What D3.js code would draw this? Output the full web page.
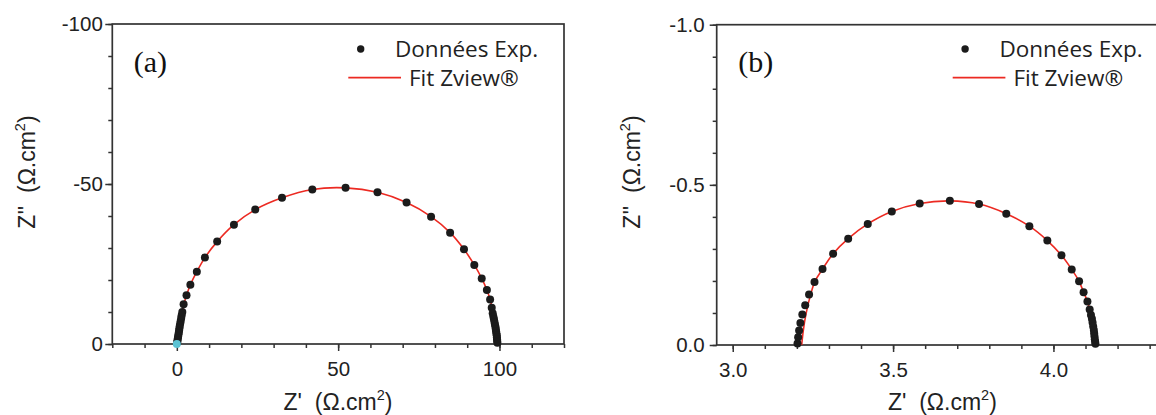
<!DOCTYPE html>
<html>
<head>
<meta charset="utf-8">
<script src="https://cdn.jsdelivr.net/npm/d3@7"></script>
<style>
  html, body { margin: 0; padding: 0; background: #ffffff; }
  svg { display: block; }
</style>
</head>
<body>
<svg id="chart" width="1156" height="415"></svg>
<script>
// ---------- Panel (a) data ----------
const expA_re = [0.15,0.2,0.3,0.4,0.5,0.6,0.7,0.8,0.9,1.05,1.2,1.35,1.5,1.7,2.1,3.0,4.2,6.2,8.7,12.5,17.7,24.3,32.6,42.0,52.3,62.2,71.2,78.8,84.7,89.0,92.2,94.5,96.1,97.1,97.6,97.9,98.1,98.3,98.45,98.6,98.75,98.85,98.95,99.05,99.15,99.2,99.25,99.3,99.35];
const expA_im = [-0.6,-1.1,-1.7,-2.3,-2.9,-3.5,-4.2,-4.9,-5.6,-6.4,-7.2,-8.1,-9.0,-10.0,-12.4,-15.2,-18.5,-22.6,-27.0,-32.0,-37.3,-42.0,-45.7,-48.3,-48.8,-47.4,-44.2,-39.8,-34.8,-29.6,-24.7,-20.5,-16.9,-13.9,-11.3,-9.6,-8.6,-7.7,-6.9,-6.1,-5.4,-4.7,-4.0,-3.3,-2.7,-2.1,-1.5,-0.9,-0.4];
const fitA_re = [0.0,0.3,0.8,1.5,2.2,3.0,4.2,6.2,8.7,12.5,17.7,24.3,32.6,42.0,52.3,62.2,71.2,78.8,84.7,89.0,92.2,94.5,96.1,97.1,97.7,98.2,98.7,99.1,99.3];
const fitA_im = [0.0,-3.0,-6.0,-9.0,-12.4,-15.2,-18.5,-22.6,-27.0,-32.0,-37.3,-42.0,-45.7,-48.3,-48.8,-47.4,-44.2,-39.8,-34.8,-29.6,-24.7,-20.5,-16.9,-13.9,-11.3,-8.5,-5.5,-2.5,0.0];
const hfA_re = [0.0];
const hfA_im = [0.0];
const xTicksA = [0, 50, 100];
const yTicksA = [0, -50, -100];
const xLabelsA = ["0", "50", "100"];
const yLabelsA = ["0", "-50", "-100"];

// ---------- Panel (b) data ----------
const expB_re = [3.202,3.204,3.207,3.211,3.217,3.226,3.238,3.255,3.280,3.313,3.360,3.421,3.496,3.583,3.677,3.768,3.853,3.925,3.981,4.025,4.057,4.080,4.094,4.106,4.113,4.117,4.120,4.122,4.124,4.126,4.127,4.128,4.129,4.130,4.131];
const expB_im = [-0.005,-0.024,-0.045,-0.069,-0.095,-0.124,-0.158,-0.197,-0.237,-0.285,-0.332,-0.378,-0.417,-0.442,-0.450,-0.440,-0.410,-0.371,-0.326,-0.280,-0.236,-0.199,-0.165,-0.136,-0.111,-0.094,-0.082,-0.070,-0.058,-0.047,-0.037,-0.027,-0.018,-0.010,-0.004];
const fitB_re = [3.215,3.220,3.228,3.243,3.257,3.280,3.313,3.360,3.421,3.496,3.583,3.677,3.768,3.853,3.925,3.981,4.025,4.057,4.080,4.094,4.106,4.113,4.120,4.125,4.128,4.130];
const fitB_im = [0.0,-0.045,-0.095,-0.158,-0.200,-0.237,-0.285,-0.332,-0.378,-0.417,-0.442,-0.450,-0.440,-0.410,-0.371,-0.326,-0.280,-0.236,-0.199,-0.165,-0.136,-0.111,-0.080,-0.050,-0.020,0.0];
const xTicksB = [3.0, 3.5, 4.0];
const yTicksB = [0.0, -0.5, -1.0];
const xLabelsB = ["3.0", "3.5", "4.0"];
const yLabelsB = ["0.0", "-0.5", "-1.0"];

const legendLabels = ["Données Exp.", "Fit Zview®"];
const panelLabels = ["(a)", "(b)"];

// ---------- drawing ----------
const svg = d3.select("#chart");
const AXIS = "#333333", TXT = "#222222", RED = "#ec2a22", DOT = "#1b1b1b", CYAN = "#5cc3d4";

function zip(a, b) { return a.map((v, i) => [v, b[i]]); }

function drawPanel(cfg) {
  const x = d3.scaleLinear().domain(cfg.xDomain).range([cfg.left, cfg.right]);
  const y = d3.scaleLinear().domain(cfg.yDomain).range([cfg.bottom, cfg.top]);
  const g = svg.append("g");

  const xMinor = d3.range(Math.ceil(cfg.xDomain[0] / cfg.xMinorStep - 1e-9), Math.floor(cfg.xDomain[1] / cfg.xMinorStep + 1e-9) + 1)
    .map(k => +(k * cfg.xMinorStep).toFixed(4));
  const yMinor = d3.range(0, Math.round(Math.abs(cfg.yDomain[1]) / cfg.yMinorStep) + 1)
    .map(k => -+(k * cfg.yMinorStep).toFixed(4));

  const styleAxis = sel => {
    sel.select(".domain").remove();
    sel.selectAll(".tick line").attr("stroke", AXIS).attr("stroke-width", 1.5);
    sel.selectAll(".tick text").attr("fill", TXT)
      .style("font-family", "'Liberation Sans', Arial, sans-serif").style("font-size", "20.5px");
  };

  g.append("g").attr("transform", `translate(0,${cfg.bottom})`)
    .call(d3.axisBottom(x).tickValues(xMinor).tickSize(4).tickFormat(""))
    .call(styleAxis);
  g.append("g").attr("transform", `translate(0,${cfg.bottom})`)
    .call(d3.axisBottom(x).tickValues(cfg.xTicks).tickSize(7).tickPadding(10.5)
      .tickFormat((d, i) => cfg.xLabels[i]))
    .call(styleAxis);
  g.append("g").attr("transform", `translate(${cfg.left},0)`)
    .call(d3.axisLeft(y).tickValues(yMinor).tickSize(4).tickFormat(""))
    .call(styleAxis);
  g.append("g").attr("transform", `translate(${cfg.left},0)`)
    .call(d3.axisLeft(y).tickValues(cfg.yTicks).tickSize(7).tickPadding(cfg.yPad)
      .tickFormat((d, i) => cfg.yLabels[i]))
    .call(styleAxis);

  g.append("rect")
    .attr("x", cfg.left).attr("y", cfg.top)
    .attr("width", cfg.right - cfg.left).attr("height", cfg.bottom - cfg.top)
    .attr("fill", "none").attr("stroke", AXIS).attr("stroke-width", 1.7);

  const line = d3.line().x(d => x(d[0])).y(d => y(d[1])).curve(d3.curveCatmullRom.alpha(0.5));
  g.append("path").datum(zip(cfg.fitRe, cfg.fitIm))
    .attr("d", line).attr("fill", "none").attr("stroke", RED).attr("stroke-width", 1.6);

  g.append("g").selectAll("circle").data(zip(cfg.expRe, cfg.expIm)).join("circle")
    .attr("cx", d => x(d[0])).attr("cy", d => y(d[1])).attr("r", 4.0).attr("fill", DOT);

  if (cfg.hfRe) {
    g.append("g").selectAll("circle").data(zip(cfg.hfRe, cfg.hfIm)).join("circle")
      .attr("cx", d => x(d[0])).attr("cy", d => y(d[1])).attr("r", 4.0).attr("fill", CYAN);
  }

  g.append("text").attr("x", cfg.left + 21.5).attr("y", 72)
    .style("font-family", "'Liberation Serif', 'Times New Roman', serif").style("font-size", "30px")
    .attr("fill", "#111").text(cfg.label);

  const lf = "'Open Sans', 'Noto Sans', sans-serif";
  g.append("circle").attr("cx", cfg.left + 248.4).attr("cy", 49).attr("r", 3.7).attr("fill", DOT);
  g.append("text").attr("x", cfg.left + 282.7).attr("y", 56.7)
    .style("font-family", lf).style("font-size", "22.5px").attr("fill", TXT).text(legendLabels[0]);
  g.append("line").attr("x1", cfg.left + 236).attr("x2", cfg.left + 288.7)
    .attr("y1", 77.7).attr("y2", 77.7).attr("stroke", RED).attr("stroke-width", 1.7);
  g.append("text").attr("x", cfg.left + 296.7).attr("y", 86)
    .style("font-family", lf).style("font-size", "22.5px").attr("fill", TXT).text(legendLabels[1]);

  const tf = "'Liberation Sans', Arial, sans-serif";
  const xt = g.append("text").attr("x", cfg.left + 225.7).attr("y", 410)
    .attr("text-anchor", "middle").style("font-family", tf).style("font-size", "23px").attr("fill", TXT);
  xt.append("tspan").text("Z'\u00a0\u00a0(\u03a9.cm");
  xt.append("tspan").attr("dy", -10).style("font-size", "14.5px").text("2");
  xt.append("tspan").attr("dy", 10).text(")");

  const yt = g.append("text").attr("transform", `translate(${cfg.left - 77},172) rotate(-90)`)
    .attr("text-anchor", "middle").style("font-family", tf).style("font-size", "23px").attr("fill", TXT);
  yt.append("tspan").text("Z''\u00a0\u00a0(\u03a9.cm");
  yt.append("tspan").attr("dy", -10).style("font-size", "14.5px").text("2");
  yt.append("tspan").attr("dy", 10).text(")");
}

drawPanel({
  left: 112.3, right: 564, top: 24, bottom: 344,
  xDomain: [-20, 120], yDomain: [0, -100], xMinorStep: 10, yMinorStep: 10, yPad: 2.5,
  xTicks: xTicksA, yTicks: yTicksA, xLabels: xLabelsA, yLabels: yLabelsA,
  expRe: expA_re, expIm: expA_im, fitRe: fitA_re, fitIm: fitA_im,
  hfRe: hfA_re, hfIm: hfA_im, label: panelLabels[0]
});

drawPanel({
  left: 716.7, right: 716.7 + 1.4 * 320.7, top: 24.7, bottom: 345,
  xDomain: [2.95, 4.35], yDomain: [0, -1.0], xMinorStep: 0.1, yMinorStep: 0.1, yPad: 5,
  xTicks: xTicksB, yTicks: yTicksB, xLabels: xLabelsB, yLabels: yLabelsB,
  expRe: expB_re, expIm: expB_im, fitRe: fitB_re, fitIm: fitB_im,
  hfRe: null, hfIm: null, label: panelLabels[1]
});
</script>
</body>
</html>
